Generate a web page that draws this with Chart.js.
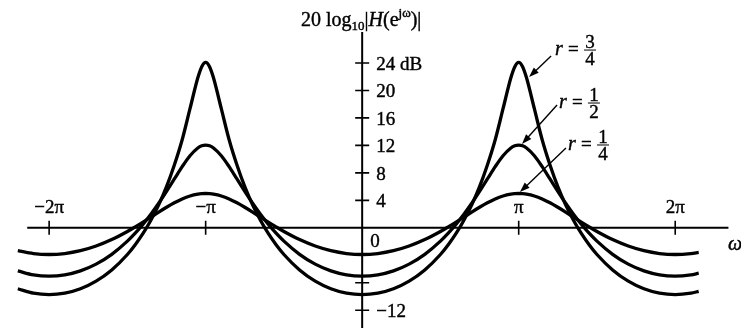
<!DOCTYPE html>
<html>
<head>
<meta charset="utf-8">
<script src="https://cdn.jsdelivr.net/npm/chart.js@4.4.0/dist/chart.umd.min.js"></script>
<style>
  html, body { margin: 0; padding: 0; background: #fff; }
  #wrap { width: 741px; height: 328px; }
</style>
</head>
<body>
<div id="wrap"><canvas id="bode"></canvas></div>
<script>
// omega, in units of pi
const omega = [
  -2.2, -2.1, -2.0, -1.9, -1.8, -1.7, -1.6, -1.5,
  -1.45, -1.4, -1.35, -1.3, -1.25, -1.2, -1.15, -1.1, -1.05,
  -1.025, -1, -0.975,
  -0.95, -0.9, -0.85, -0.8, -0.75, -0.7, -0.65, -0.6, -0.55, -0.5,
  -0.4, -0.3, -0.2, -0.1, 0, 0.1, 0.2, 0.3, 0.4,
  0.5, 0.55, 0.6, 0.65, 0.7, 0.75, 0.8, 0.85, 0.9, 0.95,
  0.975, 1, 1.025,
  1.05, 1.1, 1.15, 1.2, 1.25, 1.3, 1.35, 1.4, 1.45,
  1.5, 1.6, 1.7, 1.8, 1.9, 2.0, 2.1,
  2.15
];

// 20 log10|H| in dB, one list per r
const dbQuarter = [
  -3.33, -3.74, -3.88, -3.74, -3.33, -2.65, -1.71, -0.53,
  0.14, 0.84, 1.56, 2.29, 2.99, 3.64, 4.20, 4.63, 4.90,
  4.97, 5.00, 4.97,
  4.90, 4.63, 4.20, 3.64, 2.99, 2.29, 1.56, 0.84, 0.14, -0.53,
  -1.71, -2.65, -3.33, -3.74, -3.88, -3.74, -3.33, -2.65, -1.71,
  -0.53, 0.14, 0.84, 1.56, 2.29, 2.99, 3.64, 4.20, 4.63, 4.90,
  4.97, 5.00, 4.97,
  4.90, 4.63, 4.20, 3.64, 2.99, 2.29, 1.56, 0.84, 0.14,
  -0.53, -1.71, -2.65, -3.33, -3.74, -3.88, -3.74,
  -3.57
];

const dbHalf = [
  -6.27, -6.85, -7.04, -6.85, -6.27, -5.29, -3.86, -1.94,
  -0.78, 0.53, 1.98, 3.58, 5.31, 7.11, 8.90, 10.49, 11.62,
  11.94, 12.04, 11.94,
  11.62, 10.49, 8.90, 7.11, 5.31, 3.58, 1.98, 0.53, -0.78, -1.94,
  -3.86, -5.29, -6.27, -6.85, -7.04, -6.85, -6.27, -5.29, -3.86,
  -1.94, -0.78, 0.53, 1.98, 3.58, 5.31, 7.11, 8.90, 10.49, 11.62,
  11.94, 12.04, 11.94,
  11.62, 10.49, 8.90, 7.11, 5.31, 3.58, 1.98, 0.53, -0.78,
  -1.94, -3.86, -5.29, -6.27, -6.85, -7.04, -6.85,
  -6.61
];

const dbThreeQuarter = [
  -8.87, -9.51, -9.72, -9.51, -8.87, -7.76, -6.13, -3.88,
  -2.46, -0.82, 1.10, 3.34, 5.99, 9.14, 12.82, 17.34, 21.84,
  23.46, 24.08, 23.46,
  21.84, 17.34, 12.82, 9.14, 5.99, 3.34, 1.10, -0.82, -2.46, -3.88,
  -6.13, -7.76, -8.87, -9.51, -9.72, -9.51, -8.87, -7.76, -6.13,
  -3.88, -2.46, -0.82, 1.10, 3.34, 5.99, 9.14, 12.82, 17.34, 21.84,
  23.46, 24.08, 23.46,
  21.84, 17.34, 12.82, 9.14, 5.99, 3.34, 1.10, -0.82, -2.46,
  -3.88, -6.13, -7.76, -8.87, -9.51, -9.72, -9.51,
  -9.25
];

const xTicks = [-2, -1, 1, 2];
const xTickLabels = ['\u22122\u03c0', '\u2212\u03c0', '\u03c0', '2\u03c0'];
const yTicks = [-12, -8, -4, 4, 8, 12, 16, 20, 24];
const yTickLabels = ['\u221212', '', '', '4', '8', '12', '16', '20', '24 dB'];

const serif = '"Liberation Serif", "DejaVu Serif", serif';

// r = ... callouts (data units): label anchor, arrow tail, arrow head
const callouts = [
  { num: '3', den: '4', label: [1.232, 25.15], tail: [1.207, 25.0], head: [1.066, 21.95] },
  { num: '1', den: '2', label: [1.257, 17.44], tail: [1.245, 17.88], head: [1.021, 12.2] },
  { num: '1', den: '4', label: [1.315, 11.33], tail: [1.302, 11.62], head: [1.008, 5.21] }
];

function series(ys) {
  return omega.map((w, i) => ({ x: w, y: ys[i] }));
}

function arrow(ctx, x1, y1, x2, y2) {
  const a = Math.atan2(y2 - y1, x2 - x1);
  ctx.beginPath();
  ctx.moveTo(x1, y1);
  ctx.lineTo(x2 - 6 * Math.cos(a), y2 - 6 * Math.sin(a));
  ctx.stroke();
  ctx.beginPath();
  ctx.moveTo(x2, y2);
  ctx.lineTo(x2 - 10 * Math.cos(a) + 3.5 * Math.sin(a), y2 - 10 * Math.sin(a) - 3.5 * Math.cos(a));
  ctx.lineTo(x2 - 10 * Math.cos(a) - 3.5 * Math.sin(a), y2 - 10 * Math.sin(a) + 3.5 * Math.cos(a));
  ctx.closePath();
  ctx.fill();
}

// text with a thin outline so it reads as heavy as the printed figure
function inkText(ctx, s, px, py) {
  ctx.fillText(s, px, py);
  ctx.strokeText(s, px, py);
}

const axesPlugin = {
  id: 'axes',
  beforeDatasetsDraw(chart) {
    const { ctx, scales: { x, y } } = chart;
    const x0 = x.getPixelForValue(0), y0 = y.getPixelForValue(0);
    ctx.save();
    ctx.strokeStyle = '#000';
    ctx.lineWidth = 2;
    ctx.beginPath();
    ctx.moveTo(x.getPixelForValue(-2.14), y0);
    ctx.lineTo(x.getPixelForValue(2.34), y0);
    ctx.moveTo(x0, y.getPixelForValue(28.5));
    ctx.lineTo(x0, chart.height);
    ctx.stroke();
    ctx.lineWidth = 1.6;
    ctx.beginPath();
    xTicks.forEach(v => {
      const px = x.getPixelForValue(v);
      ctx.moveTo(px, y0 - 7); ctx.lineTo(px, y0 + 7);
    });
    yTicks.forEach(v => {
      const py = y.getPixelForValue(v);
      ctx.moveTo(x0 - 7, py); ctx.lineTo(x0 + 7, py);
    });
    ctx.stroke();
    ctx.restore();
  },
  afterDatasetsDraw(chart) {
    const { ctx, scales: { x, y } } = chart;
    const x0 = x.getPixelForValue(0), y0 = y.getPixelForValue(0);
    ctx.save();
    ctx.fillStyle = '#000';
    ctx.strokeStyle = '#000';
    ctx.lineWidth = 0.4;
    ctx.font = '19px ' + serif;
    ctx.textBaseline = 'alphabetic';

    // x tick labels above the axis
    ctx.textAlign = 'center';
    xTicks.forEach((v, i) => inkText(ctx, xTickLabels[i], x.getPixelForValue(v), y0 - 15));
    ctx.textAlign = 'left';
    inkText(ctx, '0', x0 + 8, y0 + 19);
    ctx.font = 'italic 20px ' + serif;
    inkText(ctx, '\u03c9', 728, y0 + 22);

    // y tick labels
    ctx.font = '19px ' + serif;
    yTicks.forEach((v, i) => {
      if (yTickLabels[i]) inkText(ctx, yTickLabels[i], x0 + 14, y.getPixelForValue(v) + 7);
    });

    // title 20 log10|H(e^jw)|
    let tx = 301;
    const tb = 26;
    const piece = (s, font, dy) => {
      ctx.font = font;
      inkText(ctx, s, tx, tb + dy);
      tx += ctx.measureText(s).width;
    };
    piece('20 log', '20px ' + serif, 0);
    piece('10', '13px ' + serif, 4);
    piece('|', '20px ' + serif, 0);
    piece('H', 'italic 20px ' + serif, 0);
    piece('(e', '20px ' + serif, 0);
    piece('j\u03c9', '13px ' + serif, -9);
    piece(')|', '20px ' + serif, 0);

    // r callouts
    callouts.forEach(c => {
      const lx = x.getPixelForValue(c.label[0]), ly = y.getPixelForValue(c.label[1]);
      ctx.lineWidth = 0.4;
      ctx.font = 'italic 20px ' + serif;
      ctx.textAlign = 'left';
      inkText(ctx, 'r', lx, ly);
      ctx.font = '19px ' + serif;
      inkText(ctx, '=', lx + 13, ly);
      const fx = lx + 35, fy = ly - 5;
      ctx.textAlign = 'center';
      inkText(ctx, c.num, fx, fy - 2);
      inkText(ctx, c.den, fx, fy + 15);
      ctx.lineWidth = 1;
      ctx.beginPath();
      ctx.moveTo(fx - 6, fy); ctx.lineTo(fx + 6, fy);
      ctx.stroke();
      ctx.lineWidth = 1.4;
      arrow(ctx, x.getPixelForValue(c.tail[0]), y.getPixelForValue(c.tail[1]),
        x.getPixelForValue(c.head[0]), y.getPixelForValue(c.head[1]));
    });
    ctx.restore();
  }
};

const lineStyle = {
  showLine: true,
  borderColor: '#000',
  borderWidth: 3.3,
  pointRadius: 0,
  cubicInterpolationMode: 'monotone',
  fill: false
};

new Chart(document.getElementById('bode'), {
  type: 'scatter',
  data: {
    datasets: [
      Object.assign({ label: 'r = 3/4', data: series(dbThreeQuarter) }, lineStyle),
      Object.assign({ label: 'r = 1/2', data: series(dbHalf) }, lineStyle),
      Object.assign({ label: 'r = 1/4', data: series(dbQuarter) }, lineStyle)
    ]
  },
  options: {
    responsive: true,
    maintainAspectRatio: false,
    animation: false,
    layout: { padding: { left: 10, right: 11, top: 8, bottom: 4 } },
    plugins: {
      legend: { display: false },
      tooltip: { enabled: false }
    },
    scales: {
      x: { type: 'linear', min: -2.25, max: 2.35, display: false },
      y: { min: -14, max: 32, display: false }
    }
  },
  plugins: [axesPlugin]
});
</script>
</body>
</html>
